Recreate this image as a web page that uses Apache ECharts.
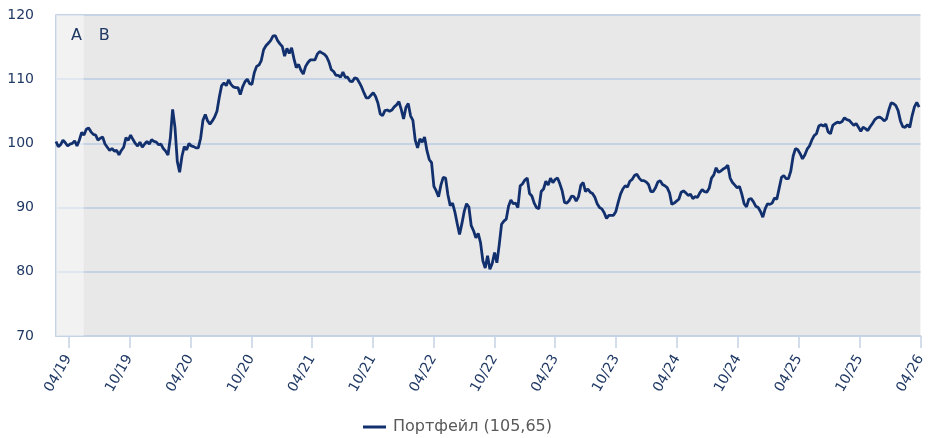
<!DOCTYPE html>
<html>
<head>
<meta charset="utf-8">
<script src="https://cdn.jsdelivr.net/npm/echarts@6.0.0/dist/echarts.min.js"></script>
<style>
  html, body { margin: 0; padding: 0; background: #fff; }
  #chart { width: 928px; height: 438px; }
</style>
</head>
<body>
<div id="chart"></div>
<script>
// weekly closes, first week starts 2019-02-23
const startDate = [2019, 1, 23];
const endDate = [2026, 3, 1];
const bandEndDate = [2019, 4, 17]; // end of period A

const values2019 = [100.3, 99.5, 99.8, 100.5, 100.1, 99.6, 99.9, 100.0, 100.4, 99.6,
  100.5, 101.7, 101.3, 102.2, 102.4, 101.8, 101.4, 101.3, 100.5, 100.8,
  101.0, 99.9, 99.4, 98.9, 99.2, 98.8, 98.9, 98.2, 98.9, 99.4,
  100.9, 100.5, 101.3, 100.6, 100.0, 99.6, 100.2, 99.4, 99.9, 100.3,
  99.9, 100.6, 100.3, 100.2, 99.8];
const values2020 = [99.9, 99.2, 98.8, 98.2, 100.8, 105.3, 102.5, 97.2, 95.5, 98.0,
  99.5, 99.0, 100.0, 99.6, 99.5, 99.3, 99.3, 100.8, 103.6, 104.5,
  103.5, 103.0, 103.5, 104.1, 105.0, 107.2, 109.0, 109.4, 109.0, 109.9,
  109.2, 108.8, 108.7, 108.7, 107.6, 108.8, 109.6, 110.0, 109.3, 109.2,
  111.0, 112.0, 112.2, 112.9, 114.6, 115.2, 115.6, 116.0, 116.7, 116.8,
  116.0, 115.5];
const values2021 = [115.1, 113.6, 114.8, 114.0, 114.9, 113.2, 111.8, 112.3, 111.4, 110.8,
  112.0, 112.6, 113.0, 113.0, 113.0, 113.9, 114.3, 114.1, 113.9, 113.5,
  112.7, 111.5, 111.2, 110.6, 110.6, 110.3, 111.1, 110.3, 110.3, 109.7,
  109.6, 110.2, 110.1, 109.5, 108.8, 107.9, 107.1, 107.1, 107.5, 107.9,
  107.3, 106.3, 104.6, 104.3, 105.1, 105.2, 105.0, 105.2, 105.7, 106.0,
  106.5, 105.3];
const values2022 = [103.8, 105.6, 106.2, 104.3, 103.6, 100.5, 99.3, 100.7, 100.2, 101.0,
  98.9, 97.5, 97.0, 93.3, 92.6, 91.7, 93.5, 94.7, 94.6, 92.0,
  90.3, 90.7, 89.3, 87.5, 85.8, 87.5, 89.4, 90.6, 90.1, 87.2,
  86.4, 85.3, 86.0, 84.5, 81.7, 80.6, 82.5, 80.4, 81.3, 83.0,
  81.4, 84.2, 87.4, 87.9, 88.2, 90.2, 91.2, 90.6, 90.7, 90.0,
  93.4, 93.7, 94.3];
const values2023 = [94.6, 92.2, 91.8, 90.7, 90.0, 89.8, 92.5, 92.9, 94.1, 93.5,
  94.6, 93.9, 94.4, 94.6, 93.7, 92.6, 90.8, 90.7, 91.1, 91.8,
  91.7, 91.0, 91.7, 93.5, 93.9, 92.5, 92.9, 92.4, 92.2, 91.6,
  90.6, 90.0, 89.8, 89.2, 88.3, 88.8, 88.8, 88.8, 89.4, 90.8,
  92.1, 92.9, 93.4, 93.2, 94.1, 94.4, 95.0, 95.2, 94.6, 94.2,
  94.2, 94.0];
const values2024 = [93.6, 92.5, 92.5, 93.1, 94.0, 94.2, 93.6, 93.4, 93.1, 92.3,
  90.5, 90.7, 91.0, 91.3, 92.4, 92.6, 92.3, 91.9, 92.1, 91.4,
  91.7, 91.6, 92.3, 92.8, 92.5, 92.4, 93.0, 94.6, 95.1, 96.2,
  95.5, 95.7, 96.0, 96.2, 96.6, 94.6, 93.9, 93.5, 93.1, 93.3,
  92.1, 90.6, 90.1, 91.3, 91.4, 90.9, 90.2, 90.0, 89.4, 88.5,
  89.8, 90.6];
const values2025 = [90.5, 90.7, 91.5, 91.3, 93.0, 94.7, 95.0, 94.5, 94.5, 95.7,
  98.0, 99.2, 99.0, 98.4, 97.6, 98.2, 99.1, 99.6, 100.5, 101.2,
  101.5, 102.7, 102.9, 102.7, 103.0, 101.8, 101.5, 102.8, 103.1, 103.3,
  103.2, 103.4, 104.0, 103.7, 103.6, 103.2, 102.8, 103.1, 102.5, 101.9,
  102.5, 102.3, 102.0, 102.6, 103.1, 103.7, 104.0, 104.1, 103.9, 103.5,
  103.8, 105.2];
const values2026 = [106.3, 106.2, 105.9, 105.1, 103.5, 102.6, 102.5, 102.9, 102.5, 104.3,
  105.7, 106.4, 105.65];

const tickYears = [2019, 2020, 2021, 2022, 2023, 2024, 2025, 2026];
const tickMonths = [3, 9]; // April, October
const seriesName = 'Портфейл';
const bandLabels = ['A', 'B'];

const values = [].concat(values2019, values2020, values2021, values2022,
  values2023, values2024, values2025, values2026);

const toTime = (d, plusDays) => new Date(d[0], d[1], d[2] + (plusDays || 0)).getTime();
const startTime = toTime(startDate);
const endTime = toTime(endDate);
const bandEnd = toTime(bandEndDate);
const seriesData = values.map((v, i) => [toTime(startDate, i * 7), v]);

const tickTimes = [];
tickYears.forEach(y => tickMonths.forEach(m => {
  const t = new Date(y, m, 1).getTime();
  if (t >= startTime && t <= endTime) tickTimes.push(t);
}));

const lastValue = values[values.length - 1];
const legendName = seriesName + ' (' + lastValue.toFixed(2).replace('.', ',') + ')';

const font = 'DejaVu Sans, Verdana, sans-serif';
const navy = '#12306d';
const axisBlue = '#c6d3e4';
const textNavy = '#1f3864';

const chart = echarts.init(document.getElementById('chart'));
chart.setOption({
  animation: false,
  textStyle: { fontFamily: font },
  grid: {
    left: 56, right: 2, top: 15, bottom: 102,
    show: true, backgroundColor: '#e8e8e8', borderWidth: 0
  },
  legend: {
    left: 358, top: 414,
    icon: 'rect',
    itemWidth: 23, itemHeight: 3, itemGap: 10,
    textStyle: { color: '#595959', fontSize: 16, fontFamily: font, padding: [0, 0, 0, 2] },
    data: [legendName]
  },
  xAxis: {
    type: 'value',
    min: startTime,
    max: endTime,
    axisLine: { show: true, lineStyle: { color: axisBlue, width: 2 } },
    axisTick: {
      show: true, length: 12, customValues: tickTimes,
      lineStyle: { color: axisBlue, width: 1.5 }
    },
    axisLabel: {
      customValues: tickTimes,
      rotate: 60,
      margin: 20,
      color: textNavy,
      fontSize: 14,
      fontFamily: font,
      formatter: function (value) {
        const d = new Date(value);
        const mm = String(d.getMonth() + 1).padStart(2, '0');
        const yy = String(d.getFullYear()).slice(2);
        return mm + '/' + yy;
      }
    },
    splitLine: { show: false }
  },
  yAxis: {
    type: 'value',
    min: 70, max: 120, interval: 10,
    axisLine: { show: true, lineStyle: { color: axisBlue, width: 2 } },
    axisTick: { show: false },
    axisLabel: { color: textNavy, fontSize: 14, margin: 22, fontFamily: font },
    splitLine: { show: true, lineStyle: { color: axisBlue, width: 2 } }
  },
  series: [{
    name: legendName,
    type: 'line',
    data: seriesData,
    symbol: 'none',
    showSymbol: false,
    lineStyle: { color: navy, width: 2.8 },
    itemStyle: { color: navy },
    markArea: {
      silent: true,
      label: {
        show: true, position: [15, 13],
        color: textNavy, fontSize: 16, fontFamily: font
      },
      data: [
        [{ name: bandLabels[0], xAxis: startTime, itemStyle: { color: 'rgba(255,255,255,0.45)' } }, { xAxis: bandEnd }],
        [{ name: bandLabels[1], xAxis: bandEnd, itemStyle: { color: 'rgba(255,255,255,0)' } }, { xAxis: endTime }]
      ]
    }
  }]
});
</script>
</body>
</html>
